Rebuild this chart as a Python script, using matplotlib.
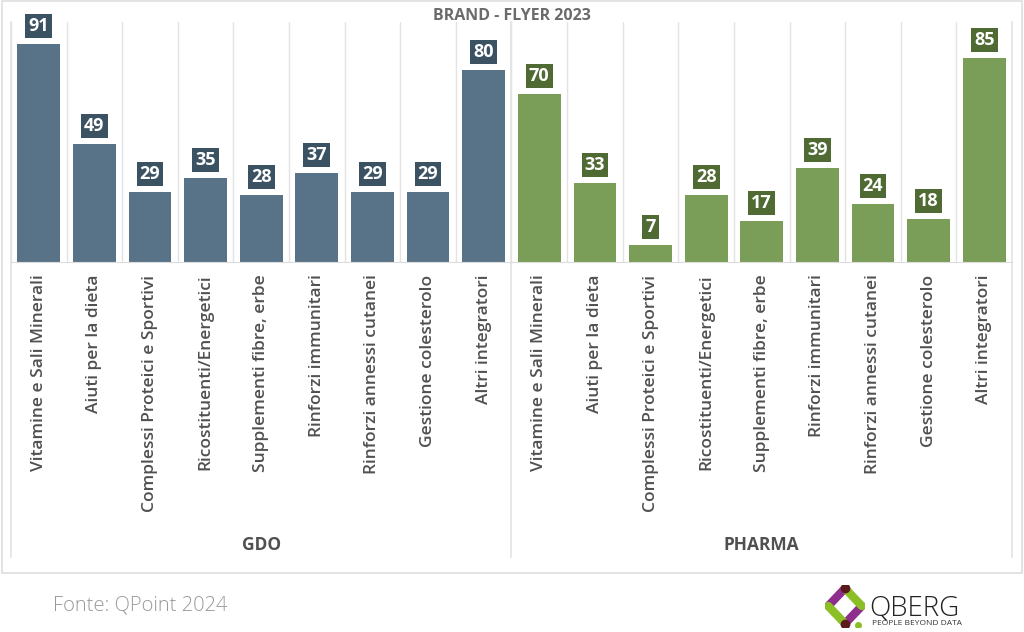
import numpy as np
import matplotlib as mpl
import matplotlib.pyplot as plt
from matplotlib.patches import Rectangle

mpl.rc('font', family=['Open Sans', 'DejaVu Sans'])

categories = ['Vitamine e Sali Minerali', 'Aiuti per la dieta',
              'Complessi Proteici e Sportivi', 'Ricostituenti/Energetici',
              'Supplementi fibre, erbe', 'Rinforzi immunitari',
              'Rinforzi annessi cutanei', 'Gestione colesterolo',
              'Altri integratori']
gdo = [91, 49, 29, 35, 28, 37, 29, 29, 80]
pharma = [70, 33, 7, 28, 17, 39, 24, 18, 85]
groups = ['GDO', 'PHARMA']

bar_col = {'GDO': '#587387', 'PHARMA': '#7a9e58'}
box_col = {'GDO': '#3b5263', 'PHARMA': '#4f6b33'}
grid_col = '#e3e3e3'
text_col = '#505050'

W, H = 1024, 632
fig = plt.figure(figsize=(W / 100, H / 100), dpi=100)

# outer frame
fig.add_artist(Rectangle((2 / W, 1 - 573 / H), 1020 / W, 572 / H,
                         transform=fig.transFigure, fill=False,
                         edgecolor='#dedede', lw=1.2))

ax = fig.add_axes([11 / W, 1 - 262 / H, 1001 / W, 240 / H])
n = len(categories)
x = np.arange(2 * n)
vals = gdo + pharma
cols = [bar_col['GDO']] * n + [bar_col['PHARMA']] * n
bcols = [box_col['GDO']] * n + [box_col['PHARMA']] * n

ax.set_xlim(-0.5, 2 * n - 0.5)
ax.set_ylim(0, 100)

# category separators
for xi in np.arange(-0.5, 2 * n, 1.0):
    ax.axvline(xi, color=grid_col, lw=1, zorder=0)
# group separators reaching down through the labels
for xi in [-0.5, n - 0.5, 2 * n - 0.5]:
    ax.axvline(xi, ymin=-1.23, ymax=1, color=grid_col, lw=1.2,
               clip_on=False, zorder=0)

ax.bar(x, vals, width=0.77, color=cols, zorder=2)

for xi, v, bc in zip(x, vals, bcols):
    ax.annotate(str(v), (xi, v), xytext=(0, 6.5), textcoords='offset points',
                ha='center', va='bottom', color='white', fontsize=13,
                fontweight='bold',
                bbox=dict(boxstyle='square,pad=0.17', fc=bc, ec='none'))

for s in ['top', 'right', 'left']:
    ax.spines[s].set_visible(False)
ax.spines['bottom'].set_color('#dcdcdc')
ax.set_yticks([])
ax.set_xticks(x)
ax.set_xticklabels(categories + categories, rotation=90, fontsize=12.5,
                   fontweight='semibold', color=text_col)
ax.tick_params(axis='x', length=0, pad=9)

for gi, g in enumerate(groups):
    xc = gi * n + (n - 1) / 2
    ax.text(xc, -118, g, ha='center', va='center', fontsize=12.5,
            fontweight='bold', color=text_col)

ax.text((2 * n - 1) / 2, 102.5, 'BRAND - FLYER 2023', ha='center',
        va='center', fontsize=11.5, fontweight='bold', color='#6b6b6b',
        clip_on=False)

fig.text(53 / W, 1 - 605 / H, 'Fonte: QPoint 2024', ha='left', va='center',
         fontsize=14.5, color='#999999', fontweight='light')

# QBERG logo
lg = fig.add_axes([825 / W, 1 - 627 / H, 40 / W, 42 / H])
lg.set_xlim(0, 1)
lg.set_ylim(0, 1)
lg.axis('off')
lg.plot([0.08, 0.5], [0.5, 0.92], color='#8e2f8e', lw=6, solid_capstyle='round')
lg.plot([0.5, 0.92], [0.08, 0.5], color='#8e2f8e', lw=6, solid_capstyle='round')
lg.plot([0.08, 0.5], [0.5, 0.08], color='#8cbf26', lw=6, solid_capstyle='round')
lg.plot([0.5, 0.92], [0.92, 0.5], color='#8cbf26', lw=6, solid_capstyle='round')
lg.plot([0.5, 0.5], [0.92, 0.08], 'o', color='#5a1a1a', ms=6)
lg.plot([0.82], [0.04], 'o', color='#8cbf26', ms=4)
fig.text(869 / W, 1 - 615 / H, 'QBERG', ha='left', va='baseline',
         fontsize=20, color='#222222', fontweight='light')
fig.text(872 / W, 1 - 625 / H, 'PEOPLE BEYOND DATA', ha='left',
         va='baseline', fontsize=6, color='#333333')

fig.savefig('out.png', dpi=100)
